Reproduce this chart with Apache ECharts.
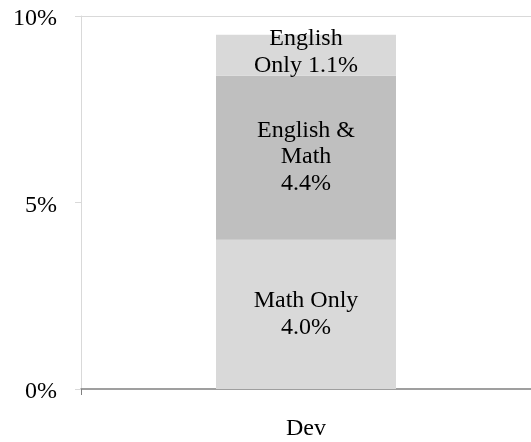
<!DOCTYPE html>
<html>
<head>
<meta charset="utf-8">
<script src="https://cdn.jsdelivr.net/npm/echarts@6/dist/echarts.min.js"></script>
<style>html,body{margin:0;padding:0;background:#fff;}#c{width:531px;height:442px;}</style>
</head>
<body>
<div id="c"></div>
<script>
const categories = ['Dev'];
const mathOnly = [4.0];
const englishMath = [4.4];
const englishOnly = [1.1];
const segmentNames = ['Math Only', 'English & Math', 'English Only'];
const segmentLabels = ['Math Only\n{v}%', 'English &\nMath\n{v}%', 'English\nOnly {v}%'];
const yTicks = [0, 5, 10];

const FONT = 'Liberation Serif';
const chart = echarts.init(document.getElementById('c'), null, {renderer: 'canvas'});

function mkSeries(name, data, color, tpl, offset) {
  return {
    name: name,
    type: 'bar',
    stack: 'total',
    data: data,
    barWidth: '40%',
    itemStyle: {color: color},
    label: {
      show: true,
      position: 'inside',
      offset: offset || [0, 0],
      color: '#000',
      fontFamily: FONT,
      fontSize: 24,
      lineHeight: 26.5,
      formatter: function (p) { return tpl.replace('{v}', p.value.toFixed(1)); }
    },
    emphasis: {disabled: true}
  };
}

chart.setOption({
  animation: false,
  grid: {left: 81, right: 0, top: 16, bottom: 53, containLabel: false},
  xAxis: {
    type: 'category',
    data: categories,
    axisLine: {lineStyle: {color: '#808080', width: 1.5}},
    axisTick: {show: true, length: 6, lineStyle: {color: '#808080'}},
    axisLabel: {color: '#000', fontFamily: FONT, fontSize: 24, margin: 28}
  },
  yAxis: {
    type: 'value',
    min: yTicks[0],
    max: yTicks[yTicks.length - 1],
    interval: 5,
    axisLine: {show: true, lineStyle: {color: '#d9d9d9'}},
    axisTick: {show: true, length: 6, lineStyle: {color: '#d9d9d9'}},
    axisLabel: {
      color: '#000', fontFamily: FONT, fontSize: 24, margin: 24,
      formatter: function (v) { return '{t|' + v + '%}'; },
      rich: {t: {color: '#000', fontFamily: FONT, fontSize: 24, padding: [6, 0, 0, 0]}}
    },
    splitLine: {show: true, lineStyle: {color: ['rgba(0,0,0,0)', 'rgba(0,0,0,0)', '#d9d9d9']}}
  },
  series: [
    mkSeries(segmentNames[0], mathOnly, '#d9d9d9', segmentLabels[0], [0, 0]),
    mkSeries(segmentNames[1], englishMath, '#bfbfbf', segmentLabels[1], [0, -1]),
    mkSeries(segmentNames[2], englishOnly, '#d9d9d9', segmentLabels[2], [0, -3])
  ]
});
</script>
</body>
</html>
